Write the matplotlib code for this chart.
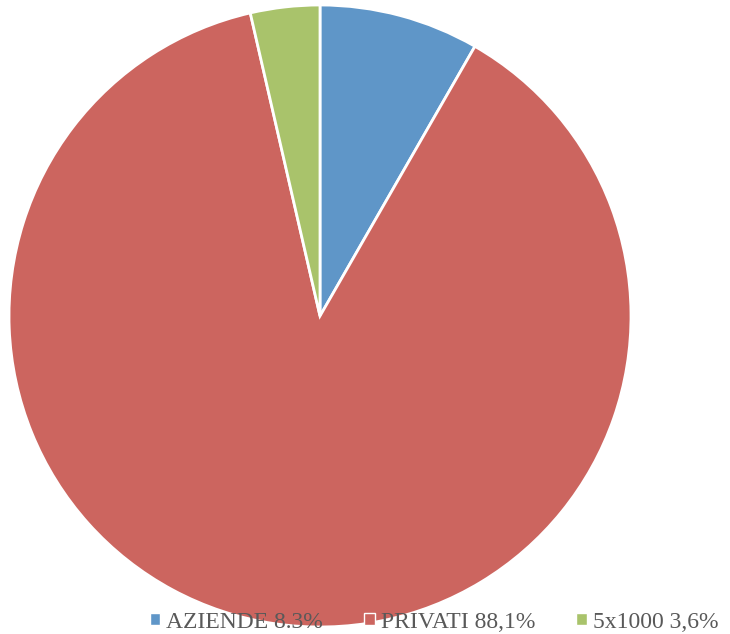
import matplotlib.pyplot as plt
from matplotlib.patches import Patch

labels = ["AZIENDE 8.3%", "PRIVATI 88,1%", "5x1000 3,6%"]
values = [8.3, 88.1, 3.6]
colors = ["#5f96c8", "#cc655f", "#a9c36b"]

fig = plt.figure(figsize=(7.3, 6.34), dpi=100)
ax = fig.add_axes([9 / 730, 7 / 634, 622 / 730, 622 / 634])

ax.pie(values, colors=colors, startangle=90, counterclock=False,
       wedgeprops=dict(edgecolor="white", linewidth=2))
ax.set_xlim(-1.0, 1.0)
ax.set_ylim(-1.0, 1.0)
ax.axis("off")

handles = [Patch(facecolor=c, edgecolor="white", linewidth=1.0) for c in colors]
leg = fig.legend(handles, labels, loc="center", bbox_to_anchor=(434 / 730, 12 / 634),
                 ncol=3, frameon=False, handlelength=0.45, handleheight=0.45,
                 handletextpad=0.25, columnspacing=1.75, borderpad=0, borderaxespad=0,
                 prop=dict(family="Liberation Serif", size=17))
for t in leg.get_texts():
    t.set_color("#595959")

fig.savefig("out.png", dpi=100)
